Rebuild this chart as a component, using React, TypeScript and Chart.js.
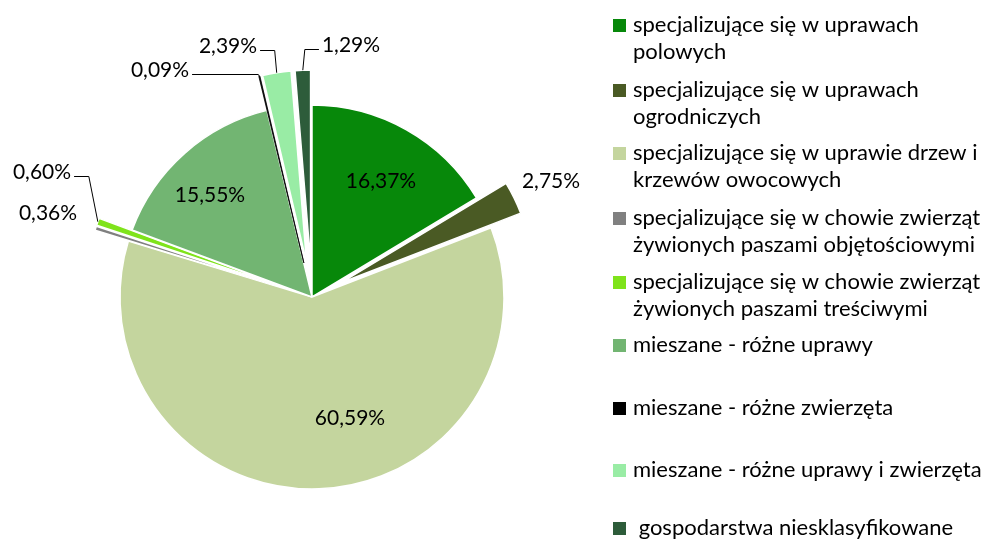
import React, { useEffect, useRef } from "react";
import { Chart, registerables } from "chart.js";

Chart.register(...registerables);

// ---- data ----
const categories: string[][] = [
  ["specjalizujące się w uprawach", "polowych"],
  ["specjalizujące się w uprawach", "ogrodniczych"],
  ["specjalizujące się w uprawie drzew i", "krzewów owocowych"],
  ["specjalizujące się w chowie zwierząt", "żywionych paszami objętościowymi"],
  ["specjalizujące się w chowie zwierząt", "żywionych paszami treściwymi"],
  ["mieszane - różne uprawy"],
  ["mieszane - różne zwierzęta"],
  ["mieszane - różne uprawy i zwierzęta"],
  [" gospodarstwa niesklasyfikowane"],
];
const shares = [16.37, 2.75, 60.59, 0.36, 0.6, 15.55, 0.09, 2.39, 1.29];
const valueLabels = shares.map((v) => v.toFixed(2).replace(".", ",") + "%");

// ---- styles ----
const colors = [
  "#07880a",
  "#4a5a24",
  "#c4d59e",
  "#808080",
  "#7fe31b",
  "#72b572",
  "#000000",
  "#99eca5",
  "#2d5c3a",
];
const explodePx = [0, 33, 0, 35, 35, 0, 35, 35, 35];
const labelOffsets: [number, number][] = [
  [69, -116],
  [239, -116],
  [38, 121],
  [-264, -84],
  [-270, -125],
  [-102, -102],
  [-152, -227],
  [-84, -251],
  [39, -252],
];
const leaderSide: (string | null)[] = [null, null, null, null, "R", null, "R", "R", "L"];
const leaderElbowDx = [0, 0, 0, 0, -9, 0, -1, -2, 2];
const legendRowY = [25, 90, 153, 218, 282, 345, 408, 470, 528];
const R = 192;

const centerOf = (chart: any) => ({
  x: (chart.chartArea.left + chart.chartArea.right) / 2,
  y: (chart.chartArea.top + chart.chartArea.bottom) / 2,
});

const extrasPlugin = {
  id: "pieExtras",
  afterDatasetUpdate(chart: any) {
    const meta = chart.getDatasetMeta(0);
    const c = centerOf(chart);
    meta.data.forEach((arc: any, i: number) => {
      const mid = (arc.startAngle + arc.endAngle) / 2;
      arc.x = c.x + Math.cos(mid) * explodePx[i];
      arc.y = c.y + Math.sin(mid) * explodePx[i];
    });
  },
  afterDatasetsDraw(chart: any) {
    const ctx = chart.ctx;
    const meta = chart.getDatasetMeta(0);
    const c = centerOf(chart);
    ctx.save();
    ctx.font = "21px Lato";
    ctx.textAlign = "center";
    ctx.textBaseline = "middle";
    ctx.fillStyle = "#000";
    ctx.strokeStyle = "#000";
    ctx.lineWidth = 1;
    meta.data.forEach((arc: any, i: number) => {
      const tx = c.x + labelOffsets[i][0];
      const ty = c.y + labelOffsets[i][1];
      const text = valueLabels[i];
      ctx.fillText(text, tx, ty);
      const side = leaderSide[i];
      if (side) {
        const mid = (arc.startAngle + arc.endAngle) / 2;
        const rr = arc.outerRadius + explodePx[i];
        const ax = c.x + Math.cos(mid) * rr;
        const ay = c.y + Math.sin(mid) * rr;
        const w = ctx.measureText(text).width;
        const sx = side === "R" ? tx + w / 2 + 3 : tx - w / 2 - 3;
        const ly = Math.round(ty + 4) + 0.5;
        ctx.beginPath();
        ctx.moveTo(sx, ly);
        ctx.lineTo(ax + leaderElbowDx[i], ly);
        ctx.lineTo(ax, ay);
        ctx.stroke();
      }
    });
    ctx.restore();
  },
  afterDraw(chart: any) {
    const ctx = chart.ctx;
    ctx.save();
    ctx.font = "22px Lato";
    ctx.textAlign = "left";
    ctx.textBaseline = "middle";
    categories.forEach((lines, i) => {
      const y = legendRowY[i];
      ctx.fillStyle = colors[i];
      ctx.fillRect(613, y - 6, 13, 13);
      ctx.fillStyle = "#000";
      lines.forEach((ln, j) => ctx.fillText(ln, 633, y + j * 27));
    });
    ctx.restore();
  },
};

export default function App() {
  const ref = useRef<HTMLCanvasElement | null>(null);
  useEffect(() => {
    let chart: Chart | null = null;
    let cancelled = false;
    const make = () => {
      if (cancelled || !ref.current) return;
      chart = new Chart(ref.current, {
        type: "pie",
        data: {
          labels: categories,
          datasets: [
            {
              data: shares,
              backgroundColor: colors,
              borderColor: colors.map((c, i) => (i === 6 ? "#000000" : "#ffffff")),
              borderWidth: colors.map((c, i) => (i === 6 ? 0.8 : 1.5)),
              offset: 0,
              hoverOffset: 0,
              radius: R,
            } as any,
          ],
        },
        options: {
          responsive: false,
          animation: false,
          devicePixelRatio: 1,
          events: [],
          layout: { padding: { left: 100, right: 463, top: 80, bottom: 27 } },
          plugins: {
            legend: { display: false },
            tooltip: { enabled: false },
            title: { display: false },
          },
        } as any,
        plugins: [extrasPlugin],
      });
    };
    const fonts: any = (document as any).fonts;
    if (fonts && fonts.load) {
      Promise.all([fonts.load("22px Lato"), fonts.load("21px Lato")]).then(make, make);
    } else make();
    return () => {
      cancelled = true;
      if (chart) chart.destroy();
    };
  }, []);
  return (
    <div style={{ position: "absolute", left: 0, top: 0, width: 987, height: 541, background: "#fff" }}>
      <canvas ref={ref} width={987} height={541} style={{ display: "block" }} />
    </div>
  );
}
